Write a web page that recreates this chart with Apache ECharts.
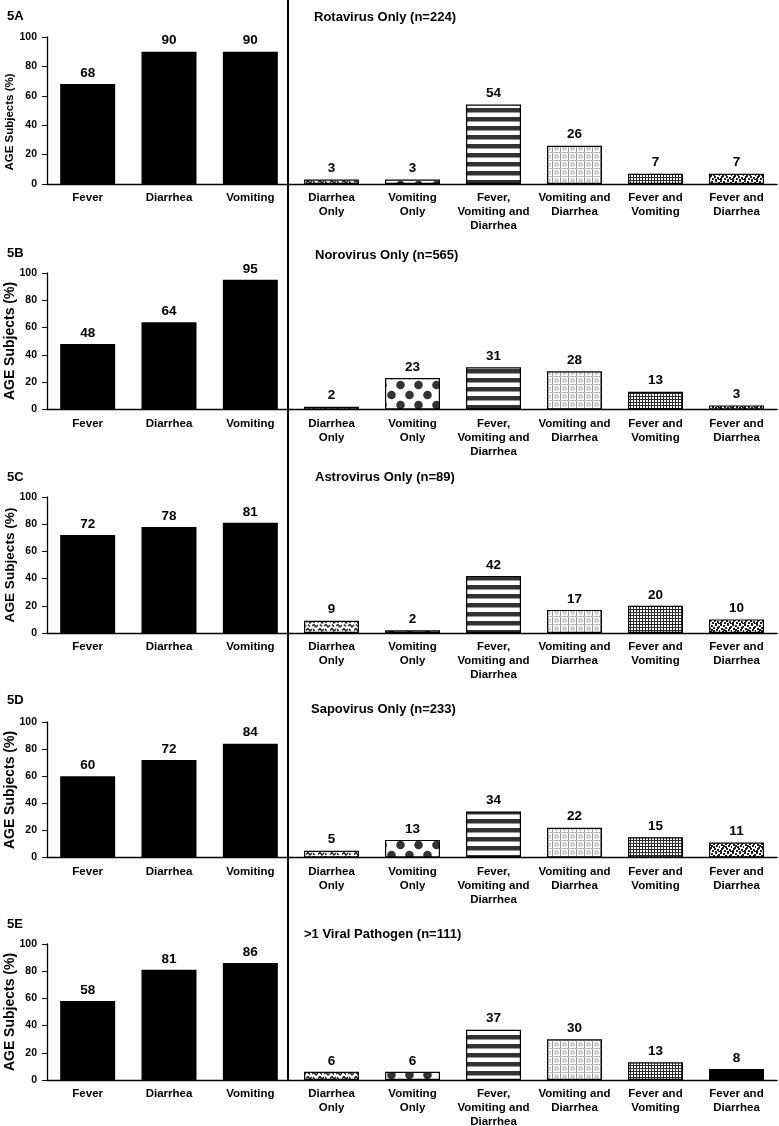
<!DOCTYPE html>
<html>
<head>
<meta charset="utf-8">
<script src="https://cdn.jsdelivr.net/npm/echarts@6/dist/echarts.min.js"></script>
<style>
html,body{margin:0;padding:0;background:#fff;}
#chart{width:779px;height:1126px;}
</style>
</head>
<body>
<div id="chart"></div>
<script>
// ---------- data ----------
const leftCategories = ['Fever', 'Diarrhea', 'Vomiting'];
const rightCategories = ['Diarrhea\nOnly', 'Vomiting\nOnly', 'Fever,\nVomiting and\nDiarrhea', 'Vomiting and\nDiarrhea', 'Fever and\nVomiting', 'Fever and\nDiarrhea'];
const panelLabels = ['5A', '5B', '5C', '5D', '5E'];
const panelTitles = ['Rotavirus Only (n=224)', 'Norovirus Only (n=565)', 'Astrovirus Only (n=89)', 'Sapovirus Only (n=233)', '>1 Viral Pathogen (n=111)'];
const yAxisName = 'AGE Subjects (%)';

const symptomsA = [68, 90, 90];
const symptomsB = [48, 64, 95];
const symptomsC = [72, 78, 81];
const symptomsD = [60, 72, 84];
const symptomsE = [58, 81, 86];

const combosA = [3, 3, 54, 26, 7, 7];
const combosB = [2, 23, 31, 28, 13, 3];
const combosC = [9, 2, 42, 17, 20, 10];
const combosD = [5, 13, 34, 22, 15, 11];
const combosE = [6, 6, 37, 30, 13, 8];

const symptomRows = [symptomsA, symptomsB, symptomsC, symptomsD, symptomsE];
const comboRows = [combosA, combosB, combosC, combosD, combosE];

// ---------- layout ----------
const rowTop = [37, 273, 497, 722, 944];
const rowHeight = [147, 136.5, 136, 135.5, 136];
const labelY = [16, 253, 477, 700, 924];
const titleY = [17, 255, 477, 709, 934];
const titleX = [314, 315, 315, 311, 304];
const nameY = [122, 341, 565, 790, 1012];
const nameSize = [11.5, 14, 13.6, 14, 14];
const FONT = '"Liberation Sans", Arial, sans-serif';

// ---------- patterns ----------
function tile(w, h, draw) {
  const c = document.createElement('canvas');
  c.width = w; c.height = h;
  const ctx = c.getContext('2d');
  ctx.fillStyle = '#fff';
  ctx.fillRect(0, 0, w, h);
  draw(ctx);
  return { image: c, repeat: 'repeat' };
}
const patterns = {
  squiggle: tile(12, 8, ctx => {
    ctx.strokeStyle = '#222'; ctx.lineWidth = 1.4;
    ctx.beginPath();
    ctx.moveTo(0, 2); ctx.lineTo(2, 0.5); ctx.lineTo(4, 3); ctx.lineTo(6, 1);
    ctx.moveTo(6, 6.5); ctx.lineTo(8, 4.5); ctx.lineTo(10, 7); ctx.lineTo(12, 5);
    ctx.moveTo(1, 5); ctx.lineTo(2.5, 7);
    ctx.moveTo(8, 0.5); ctx.lineTo(10, 2.5);
    ctx.stroke();
  }),
  dots: tile(18, 20, ctx => {
    ctx.fillStyle = '#333';
    ctx.beginPath(); ctx.arc(4.5, 5, 4.3, 0, Math.PI * 2); ctx.fill();
    ctx.beginPath(); ctx.arc(13.5, 15, 4.3, 0, Math.PI * 2); ctx.fill();
  }),
  stripes: tile(4, 9, ctx => {
    ctx.fillStyle = '#333';
    ctx.fillRect(0, 0, 4, 4.5);
  }),
  grid: tile(8, 8, ctx => {
    ctx.strokeStyle = '#999'; ctx.lineWidth = 1;
    ctx.beginPath(); ctx.moveTo(0.5, 0); ctx.lineTo(0.5, 8); ctx.stroke();
    ctx.strokeStyle = '#bbb';
    ctx.beginPath(); ctx.moveTo(0, 0.5); ctx.lineTo(8, 0.5); ctx.stroke();
    ctx.strokeStyle = '#999';
    ctx.beginPath(); ctx.arc(4.5, 4.5, 1.6, 0, Math.PI * 2); ctx.stroke();
  }),
  mesh: tile(3, 3, ctx => {
    ctx.fillStyle = '#2a2a2a';
    ctx.fillRect(0, 0, 3, 1);
    ctx.fillRect(0, 0, 1, 3);
  }),
  speckle: tile(12, 12, ctx => {
    ctx.fillStyle = '#222';
    const pts = [[0,0],[3,1],[7,0],[10,2],[1,4],[5,3],[8,5],[11,6],[2,7],[6,8],[9,9],[0,10],[4,10],[10,11],[7,11],[3,5],[5,6],[9,3],[1,8]];
    pts.forEach(p => ctx.fillRect(p[0], p[1], 2, 2));
  }),
  solid: '#000'
};
const patternKeys = [
  ['squiggle', 'dots', 'stripes', 'grid', 'mesh', 'speckle'],
  ['squiggle', 'dots', 'stripes', 'grid', 'mesh', 'speckle'],
  ['squiggle', 'dots', 'stripes', 'grid', 'mesh', 'speckle'],
  ['squiggle', 'dots', 'stripes', 'grid', 'mesh', 'speckle'],
  ['squiggle', 'dots', 'stripes', 'grid', 'mesh', 'solid']
];

// ---------- option ----------
const grid = [], xAxis = [], yAxis = [], series = [], graphic = [];
const labelStyle = { show: true, position: 'top', distance: 4, color: '#000', fontFamily: FONT, fontWeight: 'bold', fontSize: 13.5 };
const catLabel = { color: '#000', fontFamily: FONT, fontWeight: 'bold', fontSize: 11.5, lineHeight: 14, margin: 7, interval: 0 };

for (let i = 0; i < 5; i++) {
  const gl = grid.length;
  grid.push({ left: 47, top: rowTop[i], width: 244, height: rowHeight[i], containLabel: false, outerBoundsMode: 'none' });
  grid.push({ left: 291, top: rowTop[i], width: 486, height: rowHeight[i], containLabel: false, outerBoundsMode: 'none' });

  xAxis.push({ type: 'category', gridIndex: gl, data: leftCategories,
    axisLine: { lineStyle: { color: '#000', width: 1.3 } }, axisTick: { show: false }, axisLabel: catLabel });
  xAxis.push({ type: 'category', gridIndex: gl + 1, data: rightCategories,
    axisLine: { lineStyle: { color: '#000', width: 1.3 } }, axisTick: { show: false }, axisLabel: catLabel });

  yAxis.push({ type: 'value', gridIndex: gl, min: 0, max: 100, interval: 20,
    axisLine: { show: true, lineStyle: { color: '#000', width: 1.3 } },
    axisTick: { show: true, length: 5, lineStyle: { color: '#000' } },
    splitLine: { show: false },
    axisLabel: { color: '#000', fontFamily: FONT, fontWeight: 'bold', fontSize: 10.5, margin: 10 } });
  yAxis.push({ type: 'value', gridIndex: gl + 1, min: 0, max: 100, show: false, splitLine: { show: false } });

  series.push({ type: 'bar', xAxisIndex: gl, yAxisIndex: gl, data: symptomRows[i], barWidth: 55,
    itemStyle: { color: '#000' }, label: labelStyle });
  series.push({ type: 'bar', xAxisIndex: gl + 1, yAxisIndex: gl + 1, barWidth: 55,
    data: comboRows[i].map((v, j) => ({ value: v, itemStyle: { color: patterns[patternKeys[i][j]] } })),
    itemStyle: { borderColor: '#000', borderWidth: 1.2 }, label: labelStyle });

  graphic.push({ type: 'text', x: 7, y: labelY[i],
    style: { text: panelLabels[i], font: 'bold 13px ' + FONT, fill: '#000', align: 'left', verticalAlign: 'middle' } });
  graphic.push({ type: 'text', x: titleX[i], y: titleY[i],
    style: { text: panelTitles[i], font: 'bold 13px ' + FONT, fill: '#000', align: 'left', verticalAlign: 'middle' } });
  graphic.push({ type: 'text', x: 10, y: nameY[i], rotation: Math.PI / 2,
    style: { text: yAxisName, font: 'bold ' + nameSize[i] + 'px ' + FONT, fill: '#000', align: 'center', verticalAlign: 'middle' } });
}
graphic.push({ type: 'line', shape: { x1: 288, y1: 0, x2: 288, y2: 1080 }, style: { stroke: '#000', lineWidth: 2 } });

const chart = echarts.init(document.getElementById('chart'), null, { renderer: 'canvas' });
chart.setOption({ animation: false, backgroundColor: '#fff', grid, xAxis, yAxis, series, graphic });
</script>
</body>
</html>
